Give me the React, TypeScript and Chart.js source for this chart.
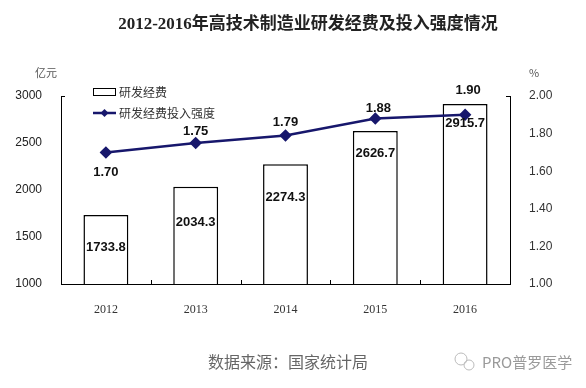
import React, { useEffect, useRef } from "react";
import { Chart, registerables } from "chart.js";

Chart.register(...registerables);

const years = ["2012", "2013", "2014", "2015", "2016"];
const rdSpending = [1733.8, 2034.3, 2274.3, 2626.7, 2915.7];
const rdIntensity = [1.7, 1.75, 1.79, 1.88, 1.9];
const barLabelOffsets = [32, 36, 33, 22, 19];
const lineLabelOffsets = [20, -12, -13, -10, -24];

const titleText = "2012-2016年高技术制造业研发经费及投入强度情况";
const legendBar = "研发经费";
const legendLine = "研发经费投入强度";
const unitLeft = "亿元";
const unitRight = "%";
const sourceText = "数据来源：国家统计局";
const watermark = "PRO普罗医学";

const NAVY = "#17176c";
const SANS = "Arial, 'Liberation Sans', 'Noto Sans CJK SC', sans-serif";
const CJK = "'Noto Sans CJK SC', sans-serif";

const decor = {
  id: "decor",
  afterDatasetsDraw(chart: any) {
    const ctx: CanvasRenderingContext2D = chart.ctx;
    const x = chart.scales.x;
    const area = chart.chartArea;
    ctx.save();
    ctx.strokeStyle = "#000";
    ctx.lineWidth = 1;
    ctx.beginPath();
    for (let i = 1; i < years.length; i++) {
      const px = Math.round((x.getPixelForValue(i - 1) + x.getPixelForValue(i)) / 2) + 0.5;
      ctx.moveTo(px, area.bottom);
      ctx.lineTo(px, area.bottom - 4);
    }
    ctx.moveTo(area.left, Math.round(area.top) + 0.5);
    ctx.lineTo(area.left + 4, Math.round(area.top) + 0.5);
    ctx.moveTo(area.right, Math.round(area.top) + 0.5);
    ctx.lineTo(area.right - 4, Math.round(area.top) + 0.5);
    ctx.stroke();

    const barMeta = chart.getDatasetMeta(0);
    ctx.font = "bold 13px " + SANS;
    ctx.fillStyle = "#111";
    ctx.textAlign = "center";
    ctx.textBaseline = "middle";
    barMeta.data.forEach((el: any, i: number) => {
      ctx.fillText(rdSpending[i].toFixed(1), el.x, el.y + barLabelOffsets[i]);
    });
    const lineMeta = chart.getDatasetMeta(1);
    lineMeta.data.forEach((el: any, i: number) => {
      ctx.fillText(rdIntensity[i].toFixed(2), el.x + (i >= 3 ? 3 : 0), el.y + lineLabelOffsets[i]);
    });

    ctx.lineWidth = 1;
    ctx.strokeStyle = "#000";
    ctx.fillStyle = "#fff";
    ctx.fillRect(93.5, 88.5, 22, 7);
    ctx.strokeRect(93.5, 88.5, 22, 7);
    ctx.strokeStyle = NAVY;
    ctx.lineWidth = 2.5;
    ctx.beginPath();
    ctx.moveTo(93, 113);
    ctx.lineTo(116, 113);
    ctx.stroke();
    ctx.fillStyle = NAVY;
    ctx.beginPath();
    ctx.moveTo(104.5, 109);
    ctx.lineTo(108.5, 113);
    ctx.lineTo(104.5, 117);
    ctx.lineTo(100.5, 113);
    ctx.closePath();
    ctx.fill();
    ctx.font = "12px " + CJK;
    ctx.fillStyle = "#333";
    ctx.textAlign = "left";
    ctx.fillText(legendBar, 119, 92);
    ctx.fillText(legendLine, 119, 113);

    ctx.font = "11px " + CJK;
    ctx.fillStyle = "#555";
    ctx.textAlign = "center";
    ctx.fillText(unitLeft, 46, 73);
    ctx.fillText(unitRight, 534, 73);

    ctx.font = "bold 17px 'Liberation Serif', 'Noto Sans CJK SC', serif";
    ctx.fillStyle = "#222";
    ctx.textAlign = "center";
    ctx.fillText(titleText, 308, 25);

    ctx.font = "16px " + CJK;
    ctx.fillStyle = "#666";
    ctx.textAlign = "left";
    ctx.fillText(sourceText, 208, 362);
    ctx.font = "15px " + CJK;
    ctx.fillStyle = "#9a9a9a";
    ctx.fillText(watermark, 482, 362);
    ctx.strokeStyle = "#bbb";
    ctx.lineWidth = 1;
    ctx.beginPath();
    ctx.arc(461, 359, 6, 0, Math.PI * 2);
    ctx.stroke();
    ctx.beginPath();
    ctx.arc(469, 365, 5, 0, Math.PI * 2);
    ctx.stroke();
    ctx.restore();
  },
};

export default function App() {
  const ref = useRef<HTMLCanvasElement>(null);
  useEffect(() => {
    if (!ref.current) return;
    const chart = new Chart(ref.current, {
      type: "bar",
      data: {
        labels: years,
        datasets: [
          {
            type: "bar",
            label: legendBar,
            data: rdSpending,
            yAxisID: "y",
            backgroundColor: "#fff",
            borderColor: "#000",
            borderWidth: 1.5,
            barPercentage: 0.5,
            categoryPercentage: 1,
            order: 1,
          } as any,
          {
            type: "line",
            label: legendLine,
            data: rdIntensity,
            yAxisID: "y1",
            borderColor: NAVY,
            backgroundColor: NAVY,
            borderWidth: 2.5,
            pointStyle: "rectRot",
            pointRadius: 4.5,
            pointBackgroundColor: NAVY,
            pointBorderColor: NAVY,
            tension: 0,
            order: 0,
          } as any,
        ],
      },
      options: {
        responsive: false,
        animation: false,
        devicePixelRatio: 1,
        layout: { padding: { top: 96, left: 0, right: 0, bottom: 0 } },
        plugins: {
          legend: { display: false },
          title: { display: false },
          tooltip: { enabled: false },
        },
        scales: {
          x: {
            offset: true,
            grid: { display: false, offset: true },
            border: { display: true, color: "#000", width: 1 },
            ticks: {
              padding: 11,
              color: "#333",
              font: { family: "'Liberation Serif', serif", size: 12 },
            },
            afterFit: (s: any) => {
              s.height = 104;
            },
          },
          y: {
            position: "left",
            min: 1000,
            max: 3000,
            grid: { display: false },
            border: { display: true, color: "#000", width: 1 },
            ticks: {
              stepSize: 500,
              padding: 11,
              color: "#222",
              font: { family: SANS, size: 12 },
              callback: (v: any) => String(v),
            },
            afterFit: (s: any) => {
              s.width = 61;
            },
          },
          y1: {
            position: "right",
            min: 1,
            max: 2,
            grid: { display: false },
            border: { display: true, color: "#000", width: 1 },
            ticks: {
              stepSize: 0.2,
              padding: 11,
              color: "#333",
              font: { family: SANS, size: 12 },
              callback: (v: any) => Number(v).toFixed(2),
            },
            afterFit: (s: any) => {
              s.width = 76;
            },
          },
        },
      },
      plugins: [decor],
    });
    return () => chart.destroy();
  }, []);
  return (
    <div style={{ position: "fixed", left: 0, top: 0, width: 586, height: 388, background: "#fff" }}>
      <canvas ref={ref} width={586} height={388} style={{ display: "block" }} />
    </div>
  );
}
